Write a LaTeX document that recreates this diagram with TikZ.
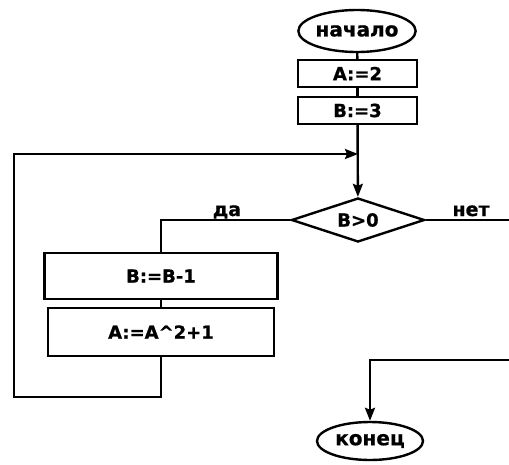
\documentclass[tikz,border=0pt]{standalone}
\usepackage{fontspec}
\setmainfont{DejaVu Sans}
\newfontfamily\heavy{DejaVu Sans}[UprightFont=*-Bold, FakeBold=0.8]
\usetikzlibrary{shapes.geometric,arrows.meta}
\begin{document}
\begin{tikzpicture}[x=1pt,y=-1pt,
  conn/.style={line width=2.4pt, line join=miter},
  arr/.style={line width=2.4pt, line join=miter, -{Stealth[length=13pt,width=10pt,inset=2pt]}},
  term/.style={draw, line width=2.4pt, ellipse, inner sep=0pt, font=\fontsize{20}{20}\selectfont\heavy},
  proc/.style={draw, line width=2.4pt, rectangle, inner sep=0pt, font=\fontsize{18}{18}\selectfont\heavy},
  cond/.style={draw, line width=2.4pt, diamond, aspect=3, inner sep=0pt, font=\fontsize{18}{18}\selectfont\heavy},
  lbl/.style={font=\fontsize{19}{19}\selectfont\heavy, inner sep=0pt, anchor=base}]
\useasboundingbox (0,0) rectangle (509,464);
\fill[white] (0,0) rectangle (509,464);

\node[term, minimum width=107pt, minimum height=42pt] (start) at (357,31) {начало};
\node[proc, minimum width=119pt, minimum height=27pt] (a2) at (357.5,73.5) {A:=2};
\node[proc, minimum width=119pt, minimum height=27pt] (b3) at (357.5,110.5) {B:=3};
\node[cond, minimum width=133pt, minimum height=44pt] (cond) at (358,220) {B>0};
\node[proc, minimum width=233pt, minimum height=46pt] (bdec) at (161,276) {B:=B-1};
\node[proc, minimum width=226pt, minimum height=48pt] (asq) at (161,332) {A:=A\^{}2+1};
\node[term, minimum width=106pt, minimum height=38pt] (end) at (370,441) {конец};

\coordinate (join) at (358,154);
\coordinate (yesc) at (161,220);
\coordinate (lb1) at (161,397);
\coordinate (lb2) at (14,397);
\coordinate (lb3) at (14,154);
\coordinate (noout) at (509,220);
\coordinate (noin) at (509,360);
\coordinate (nocorner) at (370,360);

\draw[conn] (start) -- (a2);
\draw[conn] (a2) -- (b3);
\draw[arr] (b3) -- (cond);
\draw[conn] (cond.west) -- (yesc) -- (bdec);
\draw[conn] (bdec) -- (asq);
\draw[arr] (asq) -- (lb1) -- (lb2) -- (lb3) -- (join);
\draw[conn] (cond.east) -- (noout);
\draw[arr] (noin) -- (nocorner) -- (end);

\node[lbl] (yes) at (227,216) {да};
\node[lbl] (no) at (471,216) {нет};
\end{tikzpicture}
\end{document}
